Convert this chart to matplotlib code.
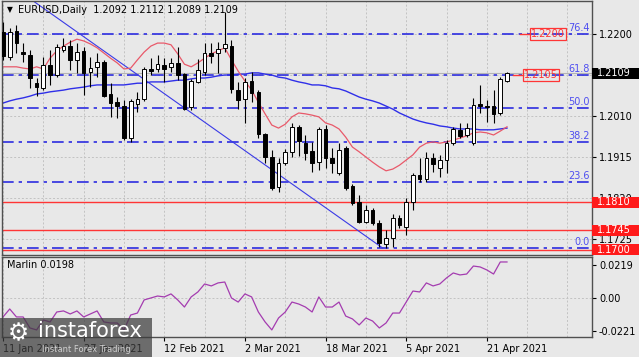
import numpy as np
import matplotlib
matplotlib.use("Agg")
import matplotlib.pyplot as plt
import matplotlib.transforms as mtransforms
from matplotlib.patches import Rectangle

########################################## DATA ##########################################
# EURUSD daily candles, 11 Jan 2021 .. 26 Apr 2021
opens = [1.2205, 1.2147, 1.2207, 1.2158, 1.2151, 1.2086, 1.2075, 1.2128, 1.2105, 1.2163,
         1.2172, 1.2140, 1.2161, 1.2112, 1.2124, 1.2135, 1.2061, 1.2042, 1.2033, 1.1959,
         1.2038, 1.2049, 1.2119, 1.2119, 1.2128, 1.2124, 1.2133, 1.2107, 1.2031, 1.2089,
         1.2112, 1.2156, 1.2156, 1.2168, 1.2172, 1.2070, 1.2049, 1.2091, 1.2066, 1.1968,
         1.1915, 1.1846, 1.1901, 1.1927, 1.1985, 1.1947, 1.1929, 1.1903, 1.1980, 1.1913,
         1.1878, 1.1936, 1.1848, 1.1811, 1.1764, 1.1792, 1.1762, 1.1713, 1.1727, 1.1774,
         1.1753, 1.1811, 1.1873, 1.1864, 1.1913, 1.1890, 1.1908, 1.1947, 1.1978, 1.1966,
         1.1947, 1.2038, 1.2033, 1.2033, 1.2017, 1.2092]
highs = [1.2228, 1.2214, 1.2221, 1.2179, 1.2163, 1.2098, 1.2147, 1.2163, 1.2177, 1.2191,
         1.2186, 1.2179, 1.2170, 1.2147, 1.2156, 1.2140, 1.2086, 1.2054, 1.2047, 1.2049,
         1.2066, 1.2124, 1.2144, 1.2151, 1.2144, 1.2144, 1.2170, 1.2110, 1.2096, 1.2142,
         1.2179, 1.2179, 1.2181, 1.2252, 1.2186, 1.2089, 1.2098, 1.2112, 1.2070, 1.1971,
         1.1931, 1.1913, 1.1934, 1.1994, 1.1989, 1.1966, 1.1950, 1.1985, 1.1989, 1.1936,
         1.1947, 1.1941, 1.1852, 1.1827, 1.1804, 1.1797, 1.1769, 1.1746, 1.1783, 1.1781,
         1.1820, 1.1878, 1.1913, 1.1927, 1.1924, 1.1920, 1.1954, 1.1985, 1.1994, 1.1994,
         1.2052, 1.2082, 1.2047, 1.2070, 1.2100, 1.2112]
lows = [1.2140, 1.2140, 1.2156, 1.2135, 1.2075, 1.2056, 1.2070, 1.2082, 1.2100, 1.2158,
        1.2117, 1.2110, 1.2059, 1.2077, 1.2100, 1.2054, 1.2008, 1.2005, 1.1954, 1.1950,
        1.2019, 1.2045, 1.2105, 1.2112, 1.2089, 1.2112, 1.2093, 1.2024, 1.2024, 1.2086,
        1.2105, 1.2133, 1.2110, 1.2158, 1.2063, 1.2026, 1.1994, 1.2042, 1.1959, 1.1901,
        1.1839, 1.1834, 1.1896, 1.1915, 1.1917, 1.1908, 1.1880, 1.1885, 1.1890, 1.1878,
        1.1873, 1.1839, 1.1804, 1.1762, 1.1762, 1.1757, 1.1706, 1.1704, 1.1706, 1.1750,
        1.1734, 1.1792, 1.1857, 1.1857, 1.1880, 1.1869, 1.1878, 1.1943, 1.1959, 1.1961,
        1.1943, 1.2017, 1.1996, 1.1994, 1.2012, 1.2089]
closes = [1.2149, 1.2205, 1.2179, 1.2154, 1.2098, 1.2077, 1.2128, 1.2105, 1.2170, 1.2172,
          1.2140, 1.2158, 1.2110, 1.2121, 1.2135, 1.2056, 1.2040, 1.2033, 1.1959, 1.2045,
          1.2049, 1.2119, 1.2114, 1.2130, 1.2119, 1.2133, 1.2105, 1.2026, 1.2091, 1.2117,
          1.2156, 1.2149, 1.2165, 1.2177, 1.2073, 1.2047, 1.2089, 1.2063, 1.1968, 1.1915,
          1.1843, 1.1901, 1.1927, 1.1985, 1.1952, 1.1924, 1.1901, 1.1980, 1.1913, 1.1901,
          1.1931, 1.1843, 1.1808, 1.1764, 1.1792, 1.1762, 1.1716, 1.1727, 1.1774, 1.1757,
          1.1811, 1.1873, 1.1864, 1.1913, 1.1899, 1.1908, 1.1947, 1.1980, 1.1964, 1.1982,
          1.2035, 1.2033, 1.2031, 1.2015, 1.2096, 1.2109]

# red (fast) and blue (slow) moving averages as drawn
ma_fast = [1.2124, 1.2124, 1.2124, 1.2121, 1.2119, 1.2124, 1.2119, 1.2144, 1.2161, 1.2172,
           1.2181, 1.2188, 1.2184, 1.2177, 1.2168, 1.2156, 1.2144, 1.2133, 1.2119, 1.2121,
           1.2140, 1.2158, 1.2172, 1.2179, 1.2179, 1.2175, 1.2154, 1.2130, 1.2124, 1.2133,
           1.2144, 1.2154, 1.2161, 1.2168, 1.2140, 1.2114, 1.2091, 1.2070, 1.2042, 1.2015,
           1.1989, 1.1982, 1.1991, 1.2008, 1.2017, 1.2015, 1.2012, 1.2008, 1.1994, 1.1989,
           1.1980, 1.1961, 1.1938, 1.1927, 1.1915, 1.1903, 1.1892, 1.1883, 1.1887, 1.1896,
           1.1908, 1.1920, 1.1938, 1.1947, 1.1950, 1.1947, 1.1950, 1.1954, 1.1959, 1.1964,
           1.1971, 1.1973, 1.1971, 1.1966, 1.1975, 1.1985]
ma_slow = [1.2040, 1.2045, 1.2049, 1.2052, 1.2056, 1.2061, 1.2063, 1.2066, 1.2068, 1.2070,
           1.2073, 1.2075, 1.2077, 1.2080, 1.2082, 1.2082, 1.2082, 1.2082, 1.2082, 1.2084,
           1.2086, 1.2086, 1.2089, 1.2089, 1.2089, 1.2091, 1.2093, 1.2093, 1.2096, 1.2098,
           1.2098, 1.2100, 1.2103, 1.2105, 1.2105, 1.2107, 1.2107, 1.2110, 1.2110, 1.2107,
           1.2105, 1.2100, 1.2098, 1.2093, 1.2089, 1.2086, 1.2082, 1.2082, 1.2080, 1.2075,
           1.2073, 1.2068, 1.2061, 1.2054, 1.2049, 1.2045, 1.2040, 1.2033, 1.2026, 1.2017,
           1.2010, 1.2003, 1.1998, 1.1994, 1.1991, 1.1987, 1.1985, 1.1982, 1.1980, 1.1980,
           1.1980, 1.1978, 1.1978, 1.1978, 1.1980, 1.1982]

marlin = [-0.0126, -0.0073, -0.0126, -0.0126, -0.0199, -0.0212, -0.0146, -0.0159, -0.0093, -0.0086,
          -0.0106, -0.0086, -0.0126, -0.0106, -0.0086, -0.0159, -0.0166, -0.0166, -0.0212, -0.0113,
          -0.0100, -0.0013, 0.0000, 0.0013, 0.0007, 0.0027, -0.0013, -0.0060, 0.0007, 0.0040,
          0.0093, 0.0080, 0.0100, 0.0106, 0.0000, -0.0027, 0.0027, 0.0007, -0.0093, -0.0159,
          -0.0212, -0.0133, -0.0093, -0.0027, -0.0040, -0.0060, -0.0093, 0.0007, -0.0060, -0.0060,
          -0.0027, -0.0120, -0.0139, -0.0179, -0.0133, -0.0153, -0.0199, -0.0166, -0.0100, -0.0100,
          -0.0027, 0.0046, 0.0040, 0.0100, 0.0080, 0.0093, 0.0133, 0.0166, 0.0153, 0.0159,
          0.0212, 0.0206, 0.0186, 0.0159, 0.0239, 0.0239]

date_pos = [0, 12, 24, 36, 48, 60, 72]
date_labels = ["11 Jan 2021", "27 Jan 2021", "12 Feb 2021", "2 Mar 2021",
               "18 Mar 2021", "5 Apr 2021", "21 Apr 2021"]

price_ticks = [1.2200, 1.2105, 1.2010, 1.1915, 1.1820, 1.1725]
marlin_ticks = [0.0219, 0.0, -0.0221]
marlin_tick_labels = ["0.0219", "0.00", "-0.0221"]

fib_levels = [1.1704, 1.1856, 1.1950, 1.2029, 1.2105, 1.2200]
fib_names = ["0.0", "23.6", "38.2", "50.0", "61.8", "76.4"]

support_levels = [1.1810, 1.1745, 1.1700]
target_levels = [1.2200, 1.2105]
target_x = [77.0, 75.9]

trend_x = [2.0, 56.5]
trend_y = [1.2304, 1.1704]

last_price = 1.2109
########################################## DATA ##########################################

BG = "#e8e8e8"
W, H = 639, 357


def main():
    fig = plt.figure(figsize=(W / 100, H / 100), dpi=100, facecolor=BG)
    ax = fig.add_axes([2 / W, 102 / H, 590 / W, 254 / H], facecolor=BG)
    ax2 = fig.add_axes([2 / W, 20 / H, 590 / W, 80 / H], facecolor=BG)

    n = len(opens)
    x = np.arange(n)
    xlim = (-0.15, 87.65)

    # grid
    for a in (ax, ax2):
        a.set_xlim(*xlim)
        for g in range(0, 88, 6):
            a.axvline(g, color="#c2c2c2", ls=(0, (2, 2)), lw=0.7, zorder=0)
        for s in a.spines.values():
            s.set_color("#505050")
            s.set_linewidth(1.0)
    for p in price_ticks:
        ax.axhline(p, color="#c2c2c2", ls=(0, (2, 2)), lw=0.7, zorder=0)
    ax2.axhline(0.0, color="#c2c2c2", ls=(0, (2, 2)), lw=0.7, zorder=0)

    ax.set_ylim(1.16879, 1.22765)

    # fibo levels
    for lvl, name in zip(fib_levels, fib_names):
        ax.plot(xlim, [lvl, lvl], color="#2c2ce0", lw=1.2, ls=(0, (7, 3, 2, 3)), zorder=1)
        ax.text(87.3, lvl + 0.0003, name, color="#4f4ff0", fontsize=7, ha="right", va="bottom", zorder=2)

    # support lines
    for lvl in support_levels:
        ax.axhline(lvl, color="#ff3535", lw=1.0, zorder=1)

    ax.axhline(last_price, color="#b4b4b4", lw=0.8, zorder=1)

    # trend line + moving averages
    ax.plot(trend_x, trend_y, color="#3a3ae6", lw=0.8, zorder=2)
    ax.plot(x, ma_slow, color="#2f2fe8", lw=1.0, zorder=2)
    ax.plot(x, ma_fast, color="#e8596a", lw=0.9, zorder=2)

    # candles
    ax.vlines(x, lows, highs, color="black", lw=0.8, zorder=3)
    for i in range(n):
        o, c = opens[i], closes[i]
        fc = "black" if c < o else "white"
        h = max(abs(c - o), 0.00018)
        ax.bar(i, h, bottom=min(o, c) - (h - abs(c - o)) / 2, width=0.55,
               color=fc, edgecolor="black", linewidth=0.7, zorder=4)

    # target labels inside plot
    for lvl, tx in zip(target_levels, target_x):
        ax.plot([tx, tx + 1.4], [lvl, lvl], color="#ff3535", lw=1.0, zorder=5)
        ax.text(tx + 1.6, lvl, f"{lvl:.4f}", color="#ff3535", fontsize=7, ha="left", va="center",
                zorder=5, bbox=dict(boxstyle="square,pad=0.12", fc="none", ec="#ff3535", lw=0.9))

    # right axis
    ax.yaxis.tick_right()
    ax.set_yticks(price_ticks)
    ax.set_yticklabels([f"{p:.4f}" for p in price_ticks])
    ax.tick_params(axis="y", length=3, pad=2, labelsize=7, colors="black")
    ax.set_xticks([])

    trans = mtransforms.blended_transform_factory(ax.transAxes, ax.transData)
    bw = 47 / 590
    for lvl, col in [(s, "#ff1a1a") for s in support_levels] + [(last_price, "black")]:
        ax.add_patch(Rectangle((1.0, lvl - 0.00125), bw, 0.0025, transform=trans,
                               fc=col, ec="none", clip_on=False, zorder=6))
        ax.text(1.0 + 5 / 590, lvl, f"{lvl:.4f}", transform=trans, color="white", fontsize=7,
                ha="left", va="center", zorder=7, clip_on=False)

    # marlin panel
    ax2.plot(x, marlin, color="#a43cb0", lw=0.9)
    ax2.set_ylim(-0.0259, 0.0272)
    ax2.yaxis.tick_right()
    ax2.set_yticks(marlin_ticks)
    ax2.set_yticklabels(marlin_tick_labels)
    ax2.set_xticks(date_pos)
    ax2.set_xticklabels(date_labels, ha="left")
    ax2.tick_params(axis="both", length=3, pad=2, labelsize=7, colors="black")
    ax2.text(0.008, 0.9, "Marlin 0.0198", transform=ax2.transAxes, fontsize=7, va="center")

    # header
    fig.text(7 / W, 1 - 10 / H, "\u25bc", fontsize=5.5, va="center")
    fig.text(18 / W, 1 - 10 / H, "EURUSD,Daily  1.2092 1.2112 1.2089 1.2109", fontsize=7, va="center")

    # watermark
    fig.patches.append(Rectangle((0, 0), 152 / W, 39 / H, transform=fig.transFigure,
                                 fc="#3c3c3c", alpha=0.72, ec="none"))
    fig.text(8 / W, 1 - 333 / H, "\u2699", fontsize=17, color="white", va="center")
    fig.text(38 / W, 1 - 331 / H, "instaforex", fontsize=15, color="white", va="center")
    fig.text(42 / W, 1 - 349 / H, "Instant Forex Trading", fontsize=6, color="#d0d0d0", va="center")

    fig.savefig("out.png", dpi=100, facecolor=BG)


if __name__ == "__main__":
    main()
